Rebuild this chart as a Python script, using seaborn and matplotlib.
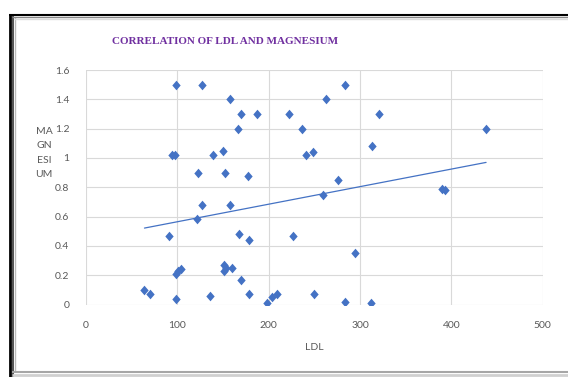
import matplotlib
matplotlib.use("Agg")
import matplotlib.pyplot as plt
from matplotlib.lines import Line2D
import seaborn as sns
import pandas as pd

# LDL cholesterol vs serum magnesium
ldl = [98, 127, 158, 170, 187, 166, 139, 150, 152, 177, 222, 237, 263, 284, 241, 248, 276, 94, 97, 123, 321, 313, 438,
       64, 70, 91, 98, 98, 101, 104, 122, 127, 136, 158, 168, 178, 227, 295, 260, 151, 151, 153, 160, 170, 178,
       198, 204, 209, 250, 284, 312, 390, 393]
magnesium = [1.50, 1.50, 1.40, 1.30, 1.30, 1.20, 1.02, 1.05, 0.90, 0.88, 1.30, 1.20, 1.40, 1.50, 1.02, 1.04, 0.85, 1.02, 1.02, 0.90, 1.30, 1.08, 1.20,
             0.10, 0.07, 0.47, 0.04, 0.21, 0.23, 0.24, 0.58, 0.68, 0.06, 0.68, 0.48, 0.44, 0.47, 0.35, 0.75, 0.27, 0.23, 0.25, 0.25, 0.17, 0.07,
             0.01, 0.05, 0.07, 0.07, 0.02, 0.01, 0.79, 0.78]

x_ticks = [0, 100, 200, 300, 400, 500]
x_tick_labels = ["0", "100", "200", "300", "400", "500"]
y_ticks = [0, 0.2, 0.4, 0.6, 0.8, 1.0, 1.2, 1.4, 1.6]
y_tick_labels = ["0", "0.2", "0.4", "0.6", "0.8", "1", "1.2", "1.4", "1.6"]

df = pd.DataFrame({"LDL": ldl, "MAGNESIUM": magnesium})

sns.set_style("white")
plt.rcParams["font.family"] = ["Lato", "DejaVu Sans"]

W, H = 568, 377
fig = plt.figure(figsize=(W / 100, H / 100), dpi=100)
fig.patch.set_facecolor("white")

left, right, top, bottom = 86, 542.7, 70, 304.5
ax = fig.add_axes([left / W, 1 - bottom / H, (right - left) / W, (bottom - top) / H])

blue = "#4472C4"
grey_text = "#595959"
diamond = [(0, -1.15), (1, 0), (0, 1.15), (-1, 0), (0, -1.15)]

sns.scatterplot(data=df, x="LDL", y="MAGNESIUM", marker=diamond, s=48,
                color=blue, edgecolor=blue, linewidth=0, ax=ax, zorder=3)
sns.regplot(data=df, x="LDL", y="MAGNESIUM", scatter=False, ci=None, truncate=True,
            line_kws=dict(color=blue, lw=0.9), ax=ax)

ax.set_xlim(0, 500)
ax.set_ylim(0, 1.6)
ax.set_xticks(x_ticks)
ax.set_xticklabels(x_tick_labels)
ax.set_yticks(y_ticks)
ax.set_yticklabels(y_tick_labels)
ax.tick_params(axis="both", length=0, labelsize=7.5, colors=grey_text)
ax.tick_params(axis="x", pad=12)
ax.tick_params(axis="y", pad=12)
ax.grid(True, color="#D9D9D9", lw=0.8)
ax.set_axisbelow(True)
for s in ax.spines.values():
    s.set_visible(False)

ax.set_xlabel("")
ax.set_ylabel("")
fig.text(314 / W, 1 - 348 / H, "LDL", ha="center", va="center", fontsize=7.5, color=grey_text)
fig.text(44 / W, 1 - 153 / H, "MA\nGN\nESI\nUM", ha="center", va="center", fontsize=7.5,
         color=grey_text, linespacing=1.75)

fig.text(225 / W, 1 - 41 / H, "CORRELATION OF LDL AND MAGNESIUM", ha="center", va="center",
         fontsize=8, fontweight="bold", color="#7030A0", family=["Liberation Serif", "DejaVu Serif"])

# chart frame with shadow
def px_line(x0, y0, x1, y1, color, lw):
    fig.add_artist(Line2D([x0 / W, x1 / W], [1 - y0 / H, 1 - y1 / H], color=color, lw=lw,
                          transform=fig.transFigure, solid_capstyle="butt"))

px_line(10, 15, 10, 377, "black", 2.0)
px_line(13, 16, 13, 377, "#333333", 1.2)
px_line(15, 17, 15, 372, "#BBBBBB", 1.0)
px_line(9, 15, 568, 15, "black", 1.5)
px_line(12, 17, 568, 17, "#888888", 1.0)
px_line(14, 19, 568, 19, "#DDDDDD", 1.0)
px_line(12, 372, 568, 372, "#A6A6A6", 1.5)
px_line(12, 375, 568, 375, "#D0D0D0", 2.0)

fig.savefig("out.png", dpi=100)
